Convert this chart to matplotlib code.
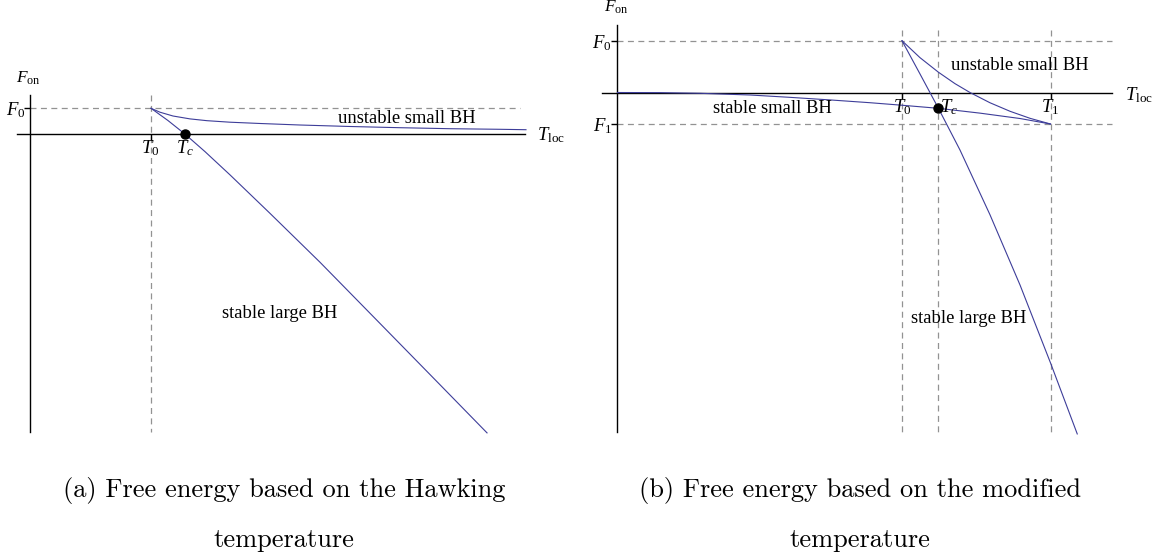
import matplotlib
matplotlib.use("Agg")
import matplotlib.pyplot as plt

plt.rcParams['mathtext.fontset'] = 'custom'
plt.rcParams['mathtext.rm'] = 'Liberation Serif'
plt.rcParams['mathtext.it'] = 'Liberation Serif:italic'
plt.rcParams['font.family'] = 'Liberation Serif'
plt.rcParams['lines.scale_dashes'] = False

# ---- panel (a): Hawking temperature ----
a_T0, a_F0, a_Tc = 1.0, 1.0, 1.28
a_unstable_T = [1.0, 1.074, 1.182, 1.322, 1.463, 1.653, 1.901, 2.231, 2.645, 3.058, 3.471, 3.884, 4.099]
a_unstable_F = [1.0, 0.848, 0.700, 0.588, 0.518, 0.459, 0.409, 0.350, 0.292, 0.245, 0.206, 0.183, 0.167]
a_large_T = [1.0, 1.140, 1.28, 1.446, 1.653, 1.983, 2.397, 2.893, 3.388, 3.777]
a_large_F = [1.0, 0.525, 0.0, -0.685, -1.591, -3.086, -4.992, -7.374, -9.755, -11.63]

# ---- panel (b): modified temperature ----
b_T0, b_Tc, b_T1 = 1.0, 1.128, 1.522
b_F0, b_Fc, b_F1 = 1.0, -0.305, -0.608
b_small_T = [0.0, 0.149, 0.290, 0.466, 0.606, 0.747, 0.888, 1.003, 1.128, 1.274, 1.415, 1.522]
b_small_F = [0.0, -0.002, -0.015, -0.048, -0.093, -0.143, -0.197, -0.247, -0.305, -0.398, -0.502, -0.608]
b_unstable_T = [1.0, 1.063, 1.128, 1.186, 1.239, 1.309, 1.380, 1.450, 1.522]
b_unstable_F = [1.0, 0.674, 0.392, 0.172, 0.0, -0.197, -0.363, -0.498, -0.608]
b_large_T = [1.0, 1.063, 1.128, 1.204, 1.309, 1.415, 1.522, 1.616]
b_large_F = [1.0, 0.361, -0.305, -1.112, -2.357, -3.718, -5.220, -6.591]

curve_c = '#3d3d99'
dash_c = '#929292'
dash = (4.3, 3.2)
math_fs = 13.5
text_fs = 13.4

fig = plt.figure(figsize=(11.58, 5.58), dpi=100)
axL = fig.add_axes([0, 0, 0.5, 1])
axR = fig.add_axes([0.5, 0, 0.5, 1])
for ax in (axL, axR):
    ax.set_axis_off()

# panel (a)
ax = axL
ax.set_xlim(-0.2479, 4.537)
ax.set_ylim(-16.498, 5.214)
ax.plot([0, 4.05], [a_F0, a_F0], color=dash_c, lw=0.9, dashes=dash)
ax.plot([a_T0, a_T0], [1.518, -11.595], color=dash_c, lw=0.9, dashes=dash)
ax.plot([0, 0], [1.518, -11.595], color='black', lw=1.0)
ax.plot([-0.107, 4.091], [0, 0], color='black', lw=1.0)
ax.plot([0], [a_F0], marker=0, ms=4, color='black', mew=1.0)
ax.plot([a_T0], [0], marker=3, ms=4, color='black', mew=1.0)
ax.plot(a_unstable_T, a_unstable_F, color=curve_c, lw=0.8)
ax.plot(a_large_T, a_large_F, color=curve_c, lw=0.8)
ax.plot([a_Tc], [0], 'o', color='black', ms=6.5)
ax.text(-0.01, 2.18, r'$F_{\rm on}$', fontsize=12.5, ha='center', va='center')
ax.text(-0.033, 0.93, r'$F_0$', fontsize=math_fs, ha='right', va='center')
ax.text(0.996, -0.564, r'$T_0$', fontsize=math_fs, ha='center', va='center')
ax.text(1.281, -0.564, r'$T_c$', fontsize=math_fs, ha='center', va='center')
ax.text(4.19, -0.04, r'$T_{\rm loc}$', fontsize=math_fs, ha='left', va='center')
ax.text(3.116, 0.584, 'unstable small BH', fontsize=text_fs, ha='center', va='center')
ax.text(2.062, -6.965, 'stable large BH', fontsize=text_fs, ha='center', va='center')

# panel (b)
ax = axR
ax.set_xlim(-0.1353, 1.8998)
ax.set_ylim(-8.986, 1.786)
for f in (b_F0, b_F1):
    ax.plot([0, 1.738], [f, f], color=dash_c, lw=0.9, dashes=dash)
for t in (b_T0, b_Tc, b_T1):
    ax.plot([t, t], [1.207, -6.554], color=dash_c, lw=0.9, dashes=dash)
ax.plot([0, 0], [1.303, -6.554], color='black', lw=1.0)
ax.plot([-0.0545, 1.738], [0, 0], color='black', lw=1.0)
ax.plot([0, 0], [b_F0, b_F1], ls='none', marker=0, ms=4, color='black', mew=1.0)
ax.plot([b_T0, b_T1], [0, 0], ls='none', marker=3, ms=4, color='black', mew=1.0)
ax.plot(b_small_T, b_small_F, color=curve_c, lw=0.8)
ax.plot(b_unstable_T, b_unstable_F, color=curve_c, lw=0.8)
ax.plot(b_large_T, b_large_F, color=curve_c, lw=0.8)
ax.plot([b_Tc], [b_Fc], 'o', color='black', ms=6.5)
ax.text(-0.0035, 1.65, r'$F_{\rm on}$', fontsize=12.5, ha='center', va='center')
ax.text(-0.0193, 0.956, r'$F_0$', fontsize=math_fs, ha='right', va='center')
ax.text(-0.0193, -0.647, r'$F_1$', fontsize=math_fs, ha='right', va='center')
ax.text(1.784, -0.048, r'$T_{\rm loc}$', fontsize=math_fs, ha='left', va='center')
ax.text(1.0, -0.29, r'$T_0$', fontsize=math_fs, ha='center', va='center')
ax.text(1.165, -0.28, r'$T_c$', fontsize=math_fs, ha='center', va='center')
ax.text(1.520, -0.28, r'$T_1$', fontsize=math_fs, ha='center', va='center')
ax.text(1.413, 0.531, 'unstable small BH', fontsize=text_fs, ha='center', va='center')
ax.text(0.545, -0.299, 'stable small BH', fontsize=text_fs, ha='center', va='center')
ax.text(1.234, -4.353, 'stable large BH', fontsize=text_fs, ha='center', va='center')

# captions
cap_kw = dict(fontsize=19, family='cmr10', ha='center', va='center')
fig.text(284 / 1158, 1 - 490 / 558, '(a) Free energy based on the Hawking', **cap_kw)
fig.text(284 / 1158, 1 - 540 / 558, 'temperature', **cap_kw)
fig.text(860 / 1158, 1 - 490 / 558, '(b) Free energy based on the modified', **cap_kw)
fig.text(860 / 1158, 1 - 540 / 558, 'temperature', **cap_kw)

fig.savefig('out.png', dpi=100)
